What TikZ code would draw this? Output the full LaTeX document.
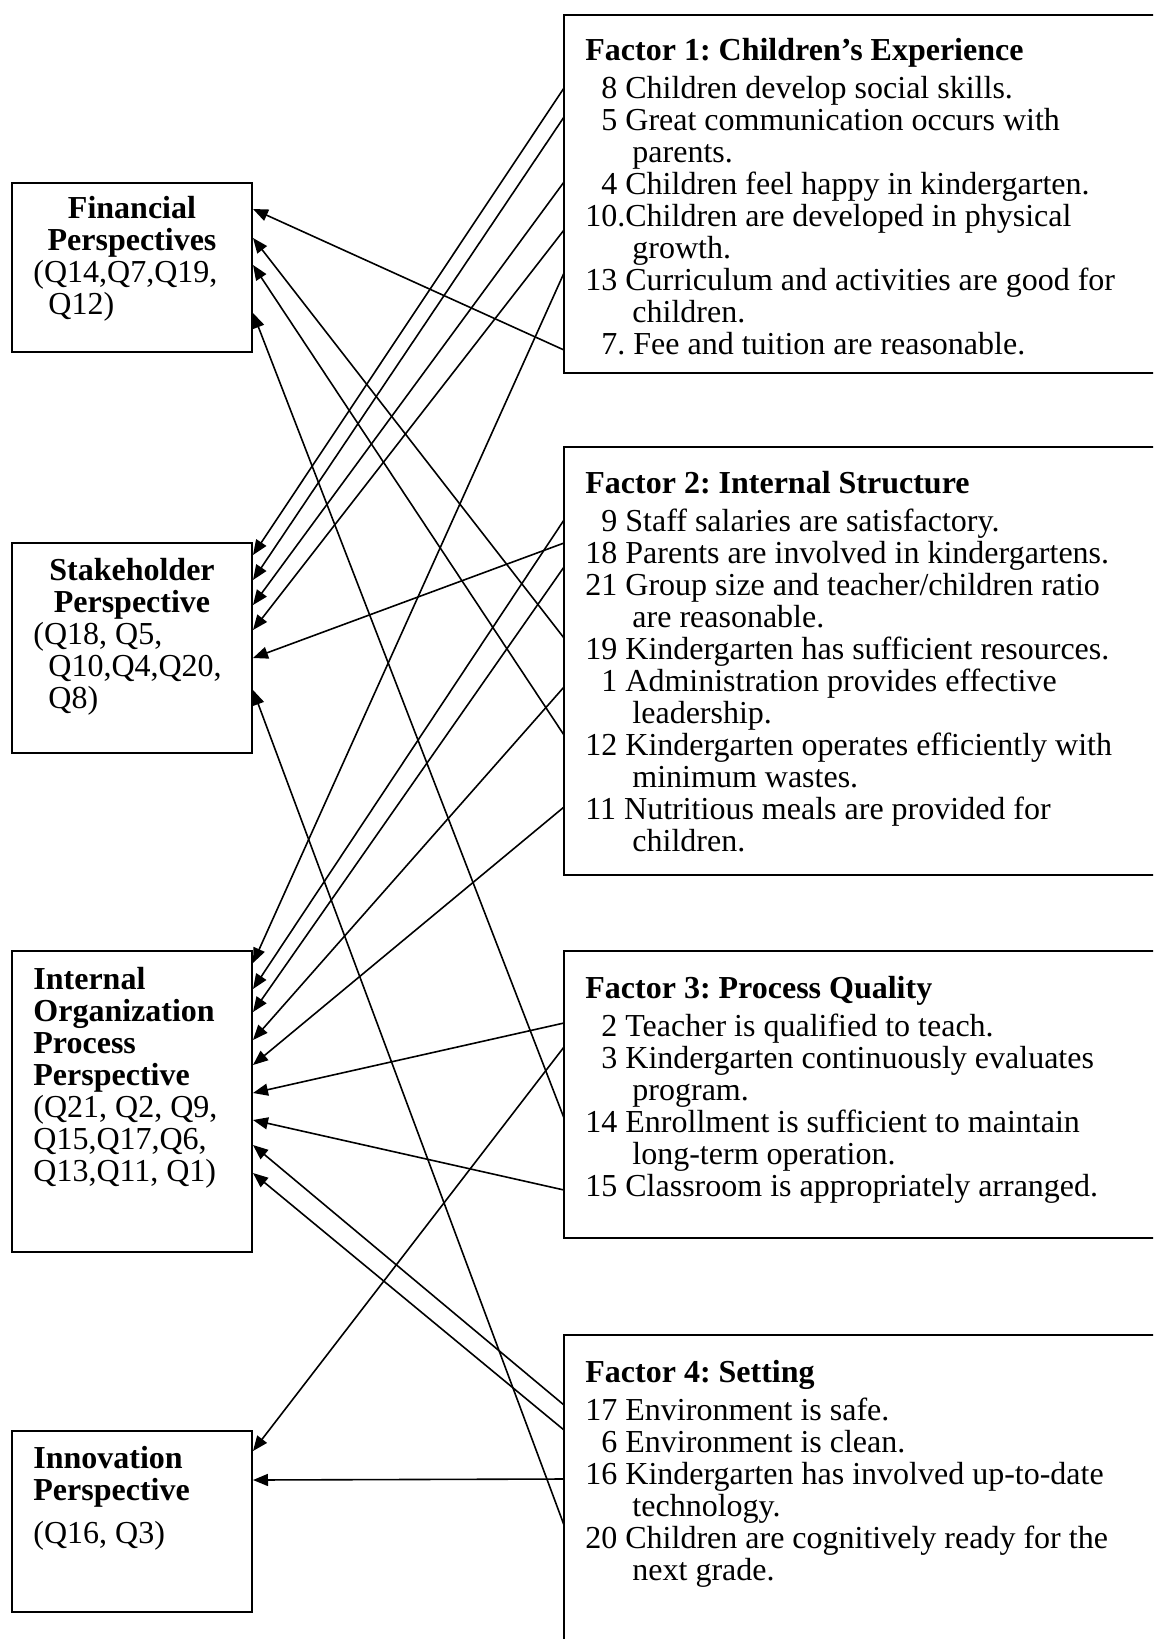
\documentclass[tikz,border=0pt]{standalone}
\usepackage{fontspec}
\setmainfont{Liberation Serif}
\usetikzlibrary{arrows.meta}
\frenchspacing
\begin{document}
\begin{tikzpicture}[x=0.5pt,y=-0.5pt,
  box/.style={draw, line width=1pt, inner sep=0pt, rectangle},
  txt/.style={inner sep=0pt, font=\fontsize{16pt}{16pt}\selectfont},
  link/.style={line width=0.8pt, -{Triangle[length=7.5pt,width=6pt]}},
]
\useasboundingbox (0,0) rectangle (1153,1639);
\begin{scope}
\clip (0,0) rectangle (1153,1639);

% ---------- perspective boxes (left column) ----------
\node[box, minimum width=120pt, minimum height=84.5pt]  (fin) at (132,267.5)  {};
\node[box, minimum width=120pt, minimum height=105pt]   (stk) at (132,648)    {};
\node[box, minimum width=120pt, minimum height=150.5pt] (ipo) at (132,1101.5) {};
\node[box, minimum width=120pt, minimum height=90.5pt]  (inn) at (132,1521.5) {};

% ---------- factor boxes (right column, running off the page) ----------
\node[box, minimum width=318pt, minimum height=179pt]   (f1) at (882,194)    {};
\node[box, minimum width=318pt, minimum height=214pt]   (f2) at (882,661)    {};
\node[box, minimum width=318pt, minimum height=143.5pt] (f3) at (882,1094.5) {};
\node[box, minimum width=318pt, minimum height=182.5pt] (f4) at (882,1517.5) {};

% ---------- perspective texts ----------
\node[txt, anchor=base] (fin-t) at (132,218)
  {\begin{tabular}[t]{@{}c@{}}\textbf{Financial}\\\textbf{Perspectives}\end{tabular}};
\node[txt, anchor=base west] (fin-q) at (33,282)
  {\begin{tabular}[t]{@{}l@{}}(Q14,Q7,Q19,\\\hspace*{7.5pt}Q12)\end{tabular}};

\node[txt, anchor=base] (stk-t) at (132,580)
  {\begin{tabular}[t]{@{}c@{}}\textbf{Stakeholder}\\\textbf{Perspective}\end{tabular}};
\node[txt, anchor=base west] (stk-q) at (33,644)
  {\begin{tabular}[t]{@{}l@{}}(Q18, Q5,\\\hspace*{7.5pt}Q10,Q4,Q20,\\\hspace*{7.5pt}Q8)\end{tabular}};

\node[txt, anchor=base west] (ipo-t) at (33,989)
  {\begin{tabular}[t]{@{}l@{}}\textbf{Internal}\\\textbf{Organization}\\\textbf{Process}\\\textbf{Perspective}\\
   (Q21, Q2, Q9,\\Q15,Q17,Q6,\\Q13,Q11, Q1)\end{tabular}};

\node[txt, anchor=base west] (inn-t) at (33,1468)
  {\begin{tabular}[t]{@{}l@{}}\textbf{Innovation}\\\textbf{Perspective}\end{tabular}};
\node[txt, anchor=base west] (inn-q) at (33,1543) {(Q16, Q3)};

% ---------- factor texts ----------
\node[txt, anchor=base west] (f1-t) at (585,60)
  {\begin{tabular}[t]{@{}l@{}}\textbf{Factor 1: Children’s Experience}\\[3pt]
   \phantom{1}8 Children develop social skills.\\
   \phantom{1}5 Great communication occurs with\\
   \hspace*{1.47em}parents.\\
   \phantom{1}4 Children feel happy in kindergarten.\\
   10.Children are developed in physical\\
   \hspace*{1.47em}growth.\\
   13 Curriculum and activities are good for\\
   \hspace*{1.47em}children.\\
   \phantom{1}7. Fee and tuition are reasonable.\end{tabular}};

\node[txt, anchor=base west] (f2-t) at (585,493)
  {\begin{tabular}[t]{@{}l@{}}\textbf{Factor 2: Internal Structure}\\[3pt]
   \phantom{1}9 Staff salaries are satisfactory.\\
   18 Parents are involved in kindergartens.\\
   21 Group size and teacher/children ratio\\
   \hspace*{1.47em}are reasonable.\\
   19 Kindergarten has sufficient resources.\\
   \phantom{1}1 Administration provides effective\\
   \hspace*{1.47em}leadership.\\
   12 Kindergarten operates efficiently with\\
   \hspace*{1.47em}minimum wastes.\\
   11 Nutritious meals are provided for\\
   \hspace*{1.47em}children.\end{tabular}};

\node[txt, anchor=base west] (f3-t) at (585,998)
  {\begin{tabular}[t]{@{}l@{}}\textbf{Factor 3: Process Quality}\\[3pt]
   \phantom{1}2 Teacher is qualified to teach.\\
   \phantom{1}3 Kindergarten continuously evaluates\\
   \hspace*{1.47em}program.\\
   14 Enrollment is sufficient to maintain\\
   \hspace*{1.47em}long-term operation.\\
   15 Classroom is appropriately arranged.\end{tabular}};

\node[txt, anchor=base west] (f4-t) at (585,1382)
  {\begin{tabular}[t]{@{}l@{}}\textbf{Factor 4: Setting}\\[3pt]
   17 Environment is safe.\\
   \phantom{1}6 Environment is clean.\\
   16 Kindergarten has involved up-to-date\\
   \hspace*{1.47em}technology.\\
   20 Children are cognitively ready for the\\
   \hspace*{1.47em}next grade.\end{tabular}};

% ---------- connector ends on the factor boxes ----------
\coordinate (r8)  at (564,88);
\coordinate (r5)  at (564,117);
\coordinate (r4)  at (564,182);
\coordinate (r10) at (564,230);
\coordinate (r13) at (564,273);
\coordinate (r7)  at (564,350);
\coordinate (r9)  at (564,520);
\coordinate (r18) at (564,543);
\coordinate (r21) at (564,567);
\coordinate (r19) at (564,638);
\coordinate (r1)  at (564,687);
\coordinate (r12) at (564,735);
\coordinate (r11) at (564,807);
\coordinate (r2)  at (564,1023);
\coordinate (r3)  at (564,1047);
\coordinate (r14) at (564,1118);
\coordinate (r15) at (564,1190);
\coordinate (r17) at (564,1405);
\coordinate (r6)  at (564,1430);
\coordinate (r16) at (564,1479);
\coordinate (r20) at (564,1525);

% ---------- connector tips on the perspective boxes ----------
\coordinate (l7)  at (253,209);
\coordinate (l19) at (253,238);
\coordinate (l12) at (253,265);
\coordinate (l14) at (253,313);
\coordinate (l8)  at (253,555);
\coordinate (l5)  at (253,580);
\coordinate (l4)  at (253,605);
\coordinate (l10) at (253,630);
\coordinate (l18) at (253,658);
\coordinate (l20) at (253,690);
\coordinate (l13) at (253,963);
\coordinate (l9)  at (253,989);
\coordinate (l21) at (253,1012);
\coordinate (l1)  at (253,1040);
\coordinate (l11) at (253,1065);
\coordinate (l2)  at (253,1093);
\coordinate (l15) at (253,1120);
\coordinate (l17) at (253,1145);
\coordinate (l6)  at (253,1173);
\coordinate (l3)  at (253,1451);
\coordinate (l16) at (253,1480);

% ---------- connectors ----------
\foreach \q in {7,19,12,14,8,5,4,10,18,20,13,9,21,1,11,2,15,17,6,3,16}
  \draw[link] (r\q) -- (l\q);

\end{scope}
\end{tikzpicture}
\end{document}
